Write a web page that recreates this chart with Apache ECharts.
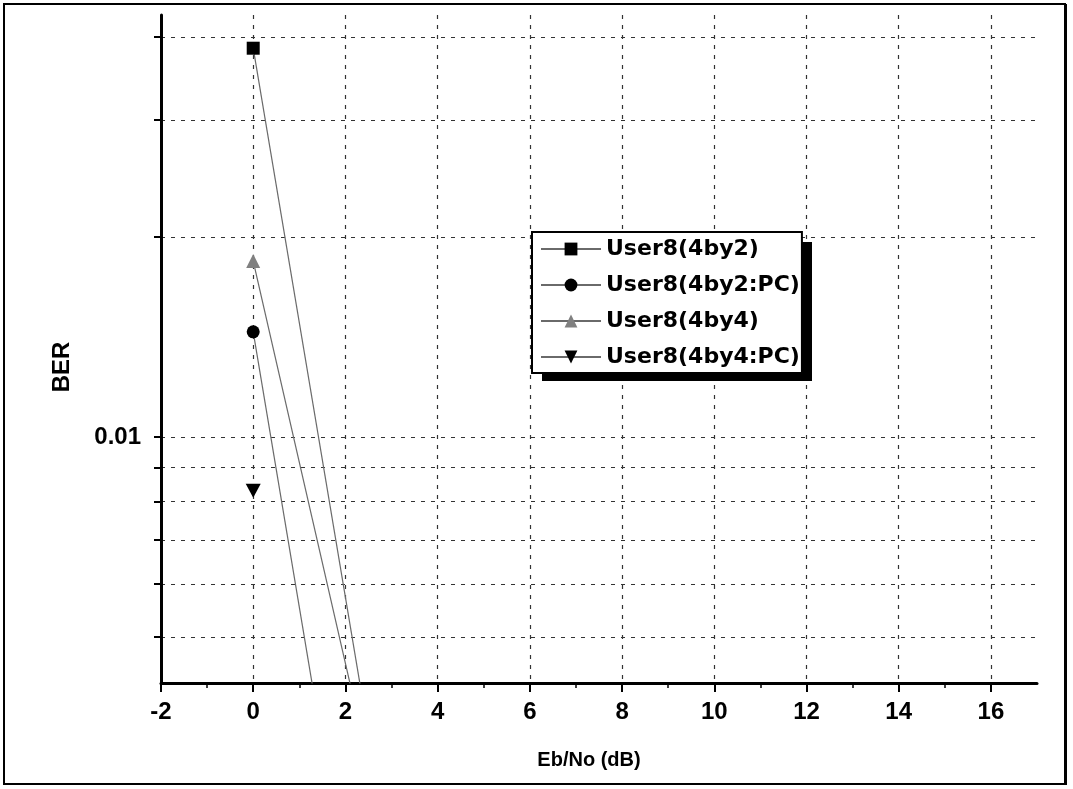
<!DOCTYPE html>
<html><head><meta charset="utf-8">
<script src="https://cdn.jsdelivr.net/npm/echarts@6/dist/echarts.min.js"></script>
<style>html,body{margin:0;padding:0;background:#fff}#c{width:1073px;height:789px}</style>
</head><body><div id="c"></div>
<script>
const seriesNames = ['User8(4by2)', 'User8(4by2:PC)', 'User8(4by4)', 'User8(4by4:PC)'];
const ebno = [0, 4];
const ber4by2 = [0.0385, 0.000854];
const ber4by2PC = [0.0144, 0.000316];
const ber4by4 = [0.0184, 0.00113];
const ber4by4PC = [0.0083, '-'];
const xTickLabels = [-2, 0, 2, 4, 6, 8, 10, 12, 14, 16];
const yGridValues = [0.005, 0.006, 0.007, 0.008, 0.009, 0.01, 0.02, 0.03, 0.04];
const yTickLabels = [0.01];

const symbols = ['rect', 'circle', 'triangle', 'path://M0,0 L10,0 L5,9 Z'];
const symbolSizes = [13, 13, 14, [15, 14]];
const markerColors = ['#000', '#000', '#808080', '#000'];
const allSeries = [ber4by2, ber4by2PC, ber4by4, ber4by4PC];

const chart = echarts.init(document.getElementById('c'), null, {renderer: 'canvas'});
const font = 'Liberation Sans';
chart.setOption({
  backgroundColor: '#fff',
  animation: false,
  grid: {left: 161, right: 36, top: 15, bottom: 106, containLabel: false},
  legend: {
    orient: 'vertical',
    left: 532, top: 232,
    data: seriesNames,
    backgroundColor: '#fff',
    borderColor: '#000', borderWidth: 2, borderRadius: 0,
    padding: [6, 2, 5, 8],
    itemWidth: 60, itemHeight: 16, itemGap: 14,
    textStyle: {fontFamily: 'DejaVu Sans', fontWeight: 'bold', fontSize: 22, color: '#000'},
    z: 6
  },
  xAxis: {
    type: 'value', min: -2, max: 17, interval: 2,
    name: 'Eb/No (dB)', nameLocation: 'middle', nameGap: 67,
    nameTextStyle: {fontFamily: font, fontWeight: 'bold', fontSize: 20, color: '#000', padding: [0, 20, 0, 0]},
    axisLine: {onZero: false, lineStyle: {color: '#000', width: 3}},
    axisTick: {show: true, customValues: xTickLabels, length: 9, lineStyle: {color: '#000', width: 2}},
    minorTick: {show: true, splitNumber: 2, length: 5, lineStyle: {color: '#000', width: 1.5}},
    axisLabel: {customValues: xTickLabels, margin: 17, fontFamily: font, fontWeight: 'bold', fontSize: 24, color: '#000'},
    splitLine: {show: true, lineStyle: {color: '#333', width: 1.2, type: [4, 6]}}
  },
  yAxis: {
    type: 'log', logBase: 10, min: 0.00426, max: 0.0432,
    name: 'BER', nameLocation: 'middle', nameGap: 87, nameRotate: 90,
    nameTextStyle: {fontFamily: font, fontWeight: 'bold', fontSize: 24, color: '#000', padding: [0, 36, 0, 0]},
    axisLine: {onZero: false, lineStyle: {color: '#000', width: 3}},
    axisTick: {show: true, customValues: yGridValues, length: 7, lineStyle: {color: '#000', width: 2}},
    minorTick: {show: false},
    axisLabel: {customValues: yTickLabels, margin: 20, fontFamily: font, fontWeight: 'bold', fontSize: 24, color: '#000',
      formatter: v => String(v)},
    splitLine: {show: true, lineStyle: {color: '#333', width: 1.2, type: [4, 6]}}
  },
  series: allSeries.map((vals, i) => ({
    name: seriesNames[i],
    type: 'line',
    data: ebno.map((x, j) => [x, vals[j]]),
    symbol: symbols[i],
    symbolSize: symbolSizes[i],
    showSymbol: true,
    clip: true,
    itemStyle: {color: markerColors[i]},
    lineStyle: {color: '#6a6a6a', width: 1.2},
    z: 3
  })),
  graphic: [
    {type: 'rect', shape: {x: 542, y: 242, width: 270, height: 139}, style: {fill: '#000'}, z: 5},
    {type: 'rect', shape: {x: 4, y: 4, width: 1061, height: 780}, style: {fill: 'none', stroke: '#000', lineWidth: 2}, z: 10},
    {type: 'line', shape: {x1: 1066, y1: 4, x2: 1066, y2: 785}, style: {stroke: '#000', lineWidth: 2}, z: 10}
  ]
});
</script></body></html>
